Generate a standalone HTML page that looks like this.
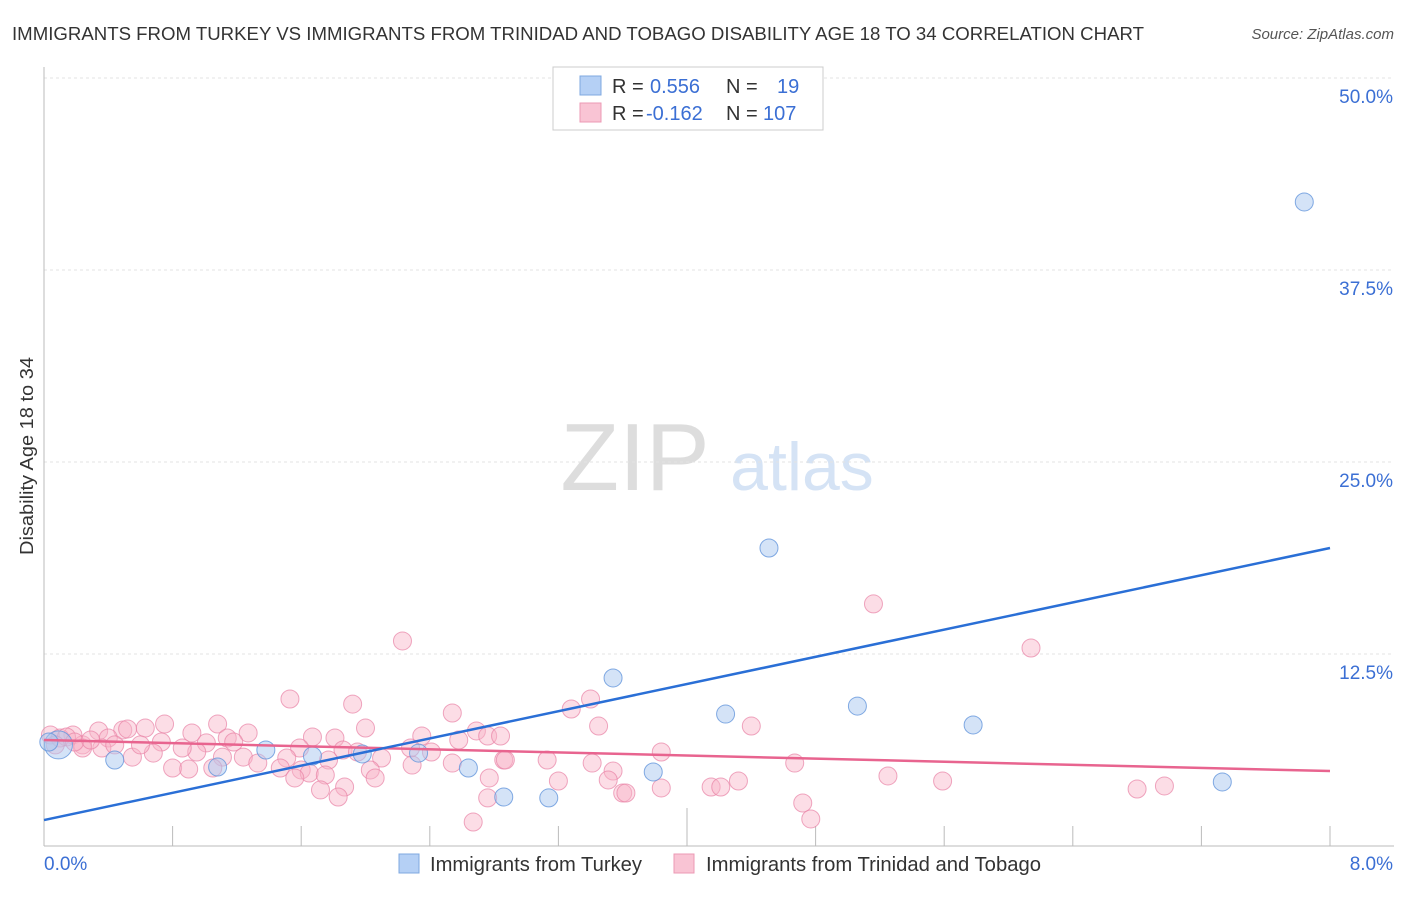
<!DOCTYPE html>
<html><head><meta charset="utf-8">
<style>
body{margin:0;background:#fff;font-family:"Liberation Sans",sans-serif;}
svg text{font-family:"Liberation Sans",sans-serif;}
</style></head>
<body>
<svg id="chart" width="1406" height="892" viewBox="0 0 1406 892" xmlns="http://www.w3.org/2000/svg">
<text x="12" y="40" font-size="18" fill="#333" textLength="1132" lengthAdjust="spacingAndGlyphs">IMMIGRANTS FROM TURKEY VS IMMIGRANTS FROM TRINIDAD AND TOBAGO DISABILITY AGE 18 TO 34 CORRELATION CHART</text>
<text x="1394" y="39" font-size="15" fill="#555" text-anchor="end" font-style="italic">Source: ZipAtlas.com</text>
<g>
<text x="635" y="490" font-size="96" fill="#ddd" text-anchor="middle" font-family="Liberation Serif,serif">ZIP</text>
<text x="802" y="490" font-size="68" fill="#d5e3f5" text-anchor="middle">atlas</text>
</g>
<g id="grid"></g><g id="axes"></g><g id="marks"></g>
<text transform="translate(33,456) rotate(-90)" font-size="18" fill="#333" text-anchor="middle" textLength="198" lengthAdjust="spacingAndGlyphs">Disability Age 18 to 34</text>
<g>
<rect x="553" y="67" width="270" height="63" fill="#fff" stroke="#ccc"/>
<rect x="580" y="76" width="21" height="19" fill="#b5d0f5" stroke="#7fa8e0"/>
<rect x="580" y="103" width="21" height="19" fill="#f9c4d4" stroke="#ec9ab4"/>
<text x="612" y="93" font-size="20" fill="#333">R = <tspan x="650" fill="#3b6fd4">0.556</tspan></text>
<text x="726" y="93" font-size="20" fill="#333">N = <tspan x="777" fill="#3b6fd4">19</tspan></text>
<text x="612" y="120" font-size="20" fill="#333">R = <tspan x="646" fill="#3b6fd4">-0.162</tspan></text>
<text x="726" y="120" font-size="20" fill="#333">N = <tspan x="763" fill="#3b6fd4">107</tspan></text>
</g>
<g>
<rect x="399" y="854" width="20" height="19" fill="#b5d0f5" stroke="#7fa8e0"/>
<text x="430" y="871" font-size="20" fill="#333" textLength="212" lengthAdjust="spacingAndGlyphs">Immigrants from Turkey</text>
<rect x="674" y="854" width="20" height="19" fill="#f9c4d4" stroke="#ec9ab4"/>
<text x="706" y="871" font-size="20" fill="#333" textLength="335" lengthAdjust="spacingAndGlyphs">Immigrants from Trinidad and Tobago</text>
</g>
</svg>
<script>
const yTicks=[12.5,25,37.5,50];
const yTickLabels=["12.5%","25.0%","37.5%","50.0%"];
const xEndLabels=["0.0%","8.0%"];
const turkeyX=[0.09,0.03,0.44,1.08,1.38,1.67,1.98,2.33,2.64,2.86,3.14,3.54,3.79,4.24,4.51,5.06,5.78,7.33,7.84];
const turkeyY=[6.58,6.77,5.60,5.14,6.25,5.86,5.99,6.05,5.08,3.19,3.13,10.94,4.82,8.59,19.40,9.11,7.88,4.17,41.93];
const turkeyTrend=[1.69,19.40];
const trinX=[2.23,1.53,1.92,2.54,0.75,1.08,2.00,2.69,2.76,0.34,0.49,0.52,0.63,0.92,1.27,1.67,1.81,2.35,2.58,1.14,1.18,0.18,0.24,0.40,0.73,1.01,1.86,1.95,2.28,2.41,2.86,2.10,1.77,1.59,1.51,1.24,1.11,0.95,0.86,0.68,0.55,0.36,0.24,0.80,0.90,1.05,1.33,1.47,1.60,1.65,1.75,2.03,2.06,2.29,2.54,2.77,1.56,1.72,1.87,1.83,2.76,2.67,0.04,0.10,0.14,3.28,3.40,3.45,2.84,2.87,3.13,3.20,3.41,3.54,3.51,3.60,3.62,3.84,3.84,4.15,4.21,4.32,4.40,4.67,4.72,4.77,5.25,5.59,5.16,6.14,6.80,6.97,0.07,0.19,0.29,0.60,0.44];
const trinY=[13.35,9.57,9.24,8.66,7.94,7.94,7.68,7.49,7.16,7.49,7.55,7.62,7.68,7.36,7.36,7.10,7.03,7.16,6.90,7.03,6.77,7.23,6.58,7.03,6.77,6.71,6.25,6.12,6.38,6.12,5.60,5.73,5.60,6.38,5.73,5.79,5.79,6.12,6.38,6.05,5.79,6.38,6.38,5.08,5.01,5.08,5.40,5.08,4.95,4.75,4.62,4.95,4.43,5.27,5.40,4.43,4.43,3.65,3.84,3.19,3.13,1.56,7.23,7.03,7.10,8.92,9.57,7.81,7.16,5.60,5.60,4.23,5.40,4.88,4.30,3.45,3.45,6.12,3.78,3.84,3.84,4.23,7.81,5.40,2.80,1.76,4.56,4.23,15.76,12.89,3.71,3.91,6.58,6.77,6.90,6.58,6.58];
const trinTrend=[6.90,4.88];
const NS="http://www.w3.org/2000/svg";
const X0=44,X1=1330,Y0=846,PX_PER=15.36;
const xs=v=>X0+v/8*(X1-X0);
const ys=v=>Y0-v*PX_PER;
function mk(tag,attrs,parent){const e=document.createElementNS(NS,tag);for(const k in attrs)e.setAttribute(k,attrs[k]);parent.appendChild(e);return e;}
const grid=document.getElementById('grid'),axes=document.getElementById('axes'),marks=document.getElementById('marks');
yTicks.forEach((t,i)=>{
 const l=mk('line',{x1:X0,x2:1394,y1:ys(t),y2:ys(t),stroke:'#e3e3e3','stroke-dasharray':'3,3'},grid);
 
 
 const tx=mk('text',{x:1393,y:ys(t)+25,'font-size':19,fill:'#3b6fd4','text-anchor':'end'},grid);
 tx.textContent=yTickLabels[i];
 
 
});
const xa=mk('line',{x1:X0,x2:1394,y1:Y0,y2:Y0,stroke:'#bbb'},axes);


const ya=mk('line',{x1:X0,x2:X0,y1:67,y2:Y0,stroke:'#bbb'},axes);


for(let i=0;i<=10;i++){
 const v=i*0.8;
 const tk=mk('line',{x1:xs(v),x2:xs(v),y1:i==5?808:826,y2:Y0,stroke:'#bbb'},axes);
 
 
}
[[0,'start'],[8,'end']].forEach((p,i)=>{
 const t=mk('text',{x:i?1393:44,y:870,'font-size':19,fill:'#3b6fd4','text-anchor':p[1]},axes);
 t.textContent=xEndLabels[i];
 
 
});
trinX.forEach((x,i)=>{
 const c=mk('circle',{cx:xs(x),cy:ys(trinY[i]),r:9,fill:'rgba(248,180,200,0.45)',stroke:'rgba(232,130,165,0.7)','stroke-width':1},marks);
 
 
});
turkeyX.forEach((x,i)=>{
 const c=mk('circle',{cx:xs(x),cy:ys(turkeyY[i]),r:i==0?14:9,fill:'rgba(170,200,240,0.5)',stroke:'rgba(100,150,220,0.8)','stroke-width':1},marks);
 
 
});
const tl=mk('line',{x1:xs(0),x2:xs(8),y1:ys(trinTrend[0]),y2:ys(trinTrend[1]),stroke:'#e8648f','stroke-width':2.5},marks);


const bl=mk('line',{x1:xs(0),x2:xs(8),y1:ys(turkeyTrend[0]),y2:ys(turkeyTrend[1]),stroke:'#2a6fd6','stroke-width':2.5},marks);


</script>
</body></html>
